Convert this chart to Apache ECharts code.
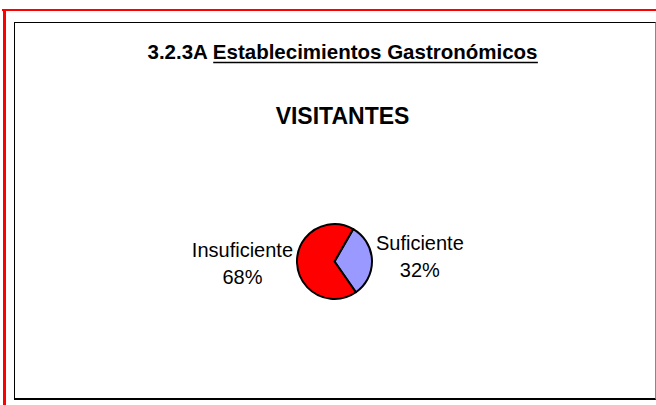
<!DOCTYPE html>
<html>
<head>
<meta charset="utf-8">
<title>Establecimientos Gastronómicos - Visitantes</title>
<script src="https://cdn.jsdelivr.net/npm/echarts@6/dist/echarts.min.js"></script>
<style>
  html, body { margin: 0; padding: 0; background: #fff; }
  body { width: 656px; height: 405px; position: relative; overflow: hidden; }
  .rule-h { position: absolute; left: 2px; top: 9px; width: 654px; height: 2px; background: #ff0000; }
  .rule-v { position: absolute; left: 3px; top: 9px; width: 3px; height: 396px; background: #ff0000; }
  .frame {
    position: absolute; left: 14px; top: 22px; width: 642px; height: 378px;
    box-sizing: border-box;
    border-left: 1px solid #000; border-top: 1px solid #000;
    border-right: 1px solid #888; border-bottom: 2px solid #000;
  }
  #chart { position: absolute; left: 0; top: 0; width: 656px; height: 405px; }
</style>
</head>
<body>
<div class="rule-h"></div>
<div class="rule-v"></div>
<div class="frame"></div>
<div id="chart"></div>
<script>
// Survey answers (percent of visitors)
const categories = ['Suficiente', 'Insuficiente'];
const shares = [32, 68];
const sliceColors = ['#9999FF', '#FF0000'];

const titlePrefix = '3.2.3A ';
const titleMain = 'Establecimientos Gastronómicos';
const subtitle = 'VISITANTES';

const FONT = '"Liberation Sans", Arial, sans-serif';
const titleFontSize = 20.5;

// measure title pieces so the underline sits under the main part only
const ctx = document.createElement('canvas').getContext('2d');
ctx.font = 'bold ' + titleFontSize + 'px ' + FONT;
const wPrefix = ctx.measureText(titlePrefix).width;
const wFull = ctx.measureText(titlePrefix + titleMain).width;
const titleCx = 342.5;
const titleLeft = titleCx - wFull / 2;

const chart = echarts.init(document.getElementById('chart'), null, { renderer: 'svg' });

chart.setOption({
  animation: false,
  graphic: [
    {
      type: 'text',
      x: titleCx, y: 51,
      silent: true,
      style: {
        text: titlePrefix + titleMain,
        fontFamily: FONT, fontWeight: 'bold', fontSize: titleFontSize,
        fill: '#000', align: 'center', verticalAlign: 'middle'
      }
    },
    {
      type: 'line',
      silent: true,
      shape: { x1: titleLeft + wPrefix, y1: 62.5, x2: titleLeft + wFull, y2: 62.5 },
      style: { stroke: '#000', lineWidth: 1.5 }
    },
    {
      type: 'text',
      x: titleCx, y: 116,
      silent: true,
      style: {
        text: subtitle,
        fontFamily: FONT, fontWeight: 'bold', fontSize: 23,
        fill: '#000', align: 'center', verticalAlign: 'middle'
      }
    }
  ],
  series: [
    {
      type: 'pie',
      center: [334.5, 261.5],
      radius: [0, 37.5],
      startAngle: 60,
      clockwise: true,
      silent: true,
      emphasis: { disabled: true },
      itemStyle: { borderColor: '#000', borderWidth: 2 },
      label: {
        show: true,
        position: 'outside',
        distanceToLabelLine: 4,
        formatter: function (p) { return '{t|' + p.name + '}\n{t|' + p.value + '%}'; },
        rich: {
          t: { fontFamily: FONT, fontSize: 20, lineHeight: 27, color: '#000', align: 'center' }
        }
      },
      // nudge the right-hand label slightly upward
      labelLayout: function (p) { return p.dataIndex === 0 ? { dy: -3 } : {}; },
      labelLine: { show: false, length: 0, length2: 0 },
      data: categories.map((name, i) => ({
        name: name,
        value: shares[i],
        itemStyle: { color: sliceColors[i] }
      }))
    }
  ]
});
</script>
</body>
</html>
